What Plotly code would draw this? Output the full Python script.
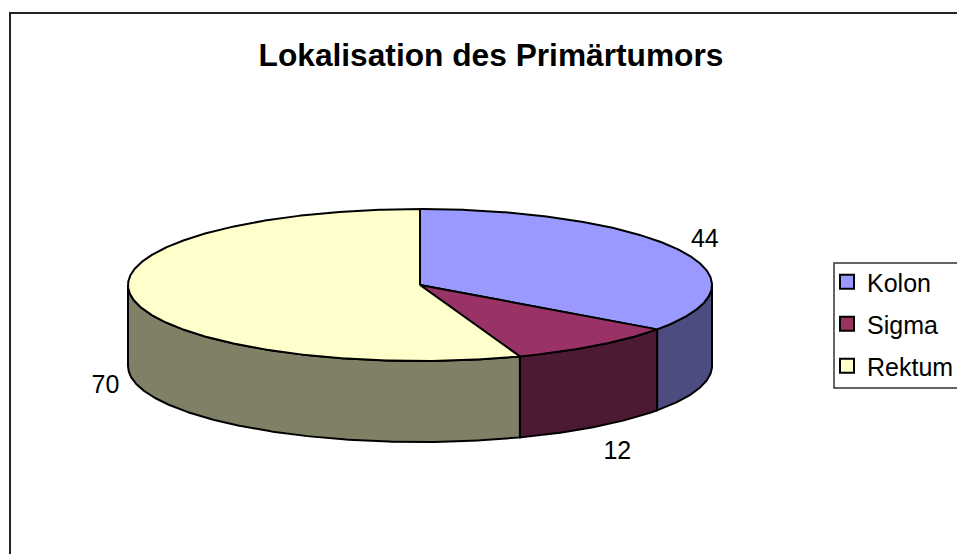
"""
Lokalisation des Primärtumors: Excel style 3D pie drawn on a pixel sized plot area.
"""

import numpy as np
import plotly.graph_objects as go

# Chart data
labels = ['Kolon', 'Sigma', 'Rektum']
values = [44, 12, 70]
top_colors = ['#9999FF', '#993366', '#FFFFCC']
side_colors = ['#4C4C80', '#4D1A33', '#808066']

# Label offsets from the rim point at each slice's middle angle
label_dx = [25, 21, -27]
label_dy = [-10, 26, 8]

# Pie geometry in pixels
WIDTH, HEIGHT = 957, 554
cx, cy = 420, 285
rx, ry = 292, 76
depth = 81


def rim(angles, drop=0):
	t = np.radians(angles)
	return cx + rx * np.sin(t), cy - ry * np.cos(t) + drop


def arc(start, end):
	return np.linspace(start, end, max(int(abs(end - start) * 2), 2))


fractions = np.array(values) / sum(values) * 360
ends = np.cumsum(fractions)
starts = ends - fractions

fig = go.Figure()

# Side walls, only the front half of the rim (90 to 270 degrees) is visible
for start, end, color in zip(starts, ends, side_colors):
	lo, hi = max(start, 90), min(end, 270)
	if lo >= hi:
		continue
	ang = arc(lo, hi)
	x_top, y_top = rim(ang)
	x_bot, y_bot = rim(ang[::-1], depth)
	fig.add_trace(go.Scatter(
		x=np.r_[x_top, x_bot, x_top[0]], y=np.r_[y_top, y_bot, y_top[0]],
		mode='lines', fill='toself', fillcolor=color,
		line=dict(color='black', width=2), showlegend=False, hoverinfo='skip'
	))

# Top faces
for name, start, end, color in zip(labels, starts, ends, top_colors):
	x_rim, y_rim = rim(arc(start, end))
	fig.add_trace(go.Scatter(
		x=np.r_[cx, x_rim, cx], y=np.r_[cy, y_rim, cy],
		mode='lines', fill='toself', fillcolor=color,
		line=dict(color='black', width=2), showlegend=False, name=name
	))

# Value labels
mid = (starts + ends) / 2
x_mid, y_mid = rim(mid)
y_mid = np.where((mid > 90) & (mid < 270), y_mid + depth, y_mid)
fig.add_trace(go.Scatter(
	x=x_mid + np.array(label_dx), y=y_mid + np.array(label_dy),
	mode='text', text=[str(v) for v in values], textposition='middle center',
	textfont=dict(size=25, color='black'), showlegend=False, hoverinfo='skip'
))

# Legend entries
for i, (name, color) in enumerate(zip(labels, top_colors)):
	fig.add_trace(go.Scatter(
		x=[None], y=[None], mode='markers', name=name, legendgroup=name,
		marker=dict(symbol='square', size=14, color=color, line=dict(color='black', width=2))
	))

fig.update_layout(
	width=WIDTH,
	height=HEIGHT,
	margin=dict(l=0, r=0, t=0, b=0, autoexpand=False),
	paper_bgcolor='white',
	plot_bgcolor='white',
	font=dict(family='Liberation Sans, Arial, sans-serif', color='black'),
	title=dict(
		text='<b>Lokalisation des Primärtumors</b>',
		x=491 / WIDTH, xanchor='center', y=1 - 55 / HEIGHT, yanchor='middle',
		font=dict(size=31.7, color='black')
	),
	xaxis=dict(range=[0, WIDTH], visible=False, fixedrange=True),
	yaxis=dict(range=[HEIGHT, 0], visible=False, fixedrange=True),
	legend=dict(
		x=827 / WIDTH, xanchor='left', y=1 - 259 / HEIGHT, yanchor='top',
		font=dict(size=25), tracegroupgap=6.5, traceorder='grouped',
		bgcolor='rgba(0,0,0,0)', borderwidth=0
	),
	shapes=[
		# chart area border, open on the right and bottom like the clipped original
		dict(type='path', path=f'M 10 {HEIGHT} L 10 13 L {WIDTH} 13', xref='x', yref='y',
			line=dict(color='#222222', width=2)),
		# legend box, also clipped at the right edge
		dict(type='path', path=f'M {WIDTH} 263 L 834 263 L 834 388 L {WIDTH} 388', xref='x', yref='y',
			line=dict(color='#333333', width=1.5)),
	],
)

# The page body's default margin would push the chart off its 957x554 window
fig.write_html(
	"out.html",
	config={'displayModeBar': False},
	post_script="document.body.style.margin = '0';"
)
